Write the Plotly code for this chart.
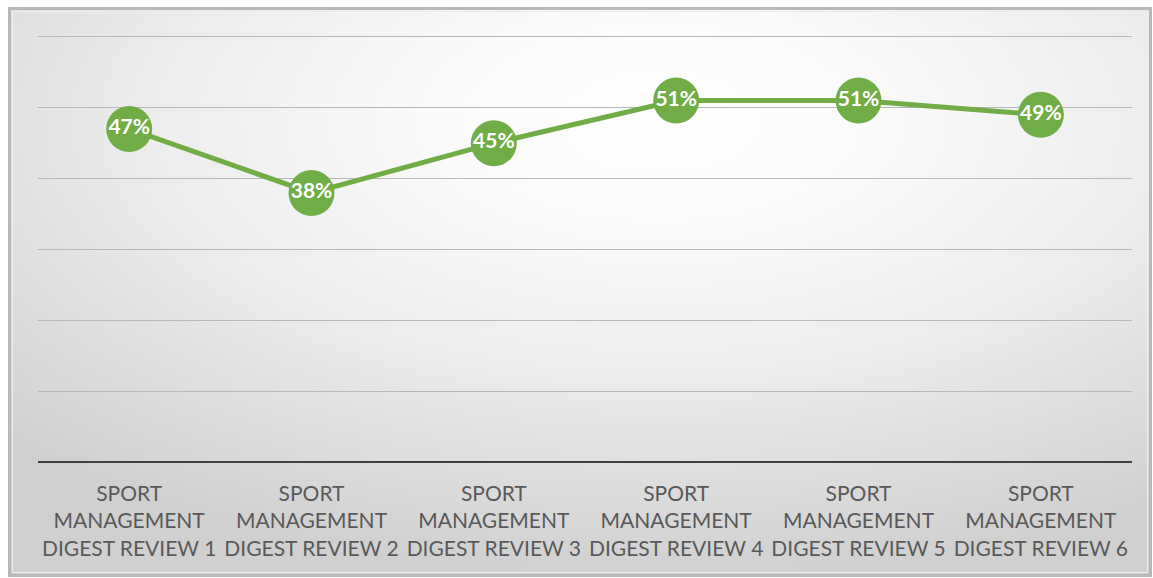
import base64
import plotly.graph_objects as go

categories = ["SPORT<br>MANAGEMENT<br>DIGEST REVIEW %d" % i for i in range(1, 7)]
values = [0.47, 0.38, 0.45, 0.51, 0.51, 0.49]
labels = ["47%", "38%", "45%", "51%", "51%", "49%"]
y_ticks = [0.0, 0.1, 0.2, 0.3, 0.4, 0.5, 0.6]

W, H = 1153, 578
ML, MR, MT, MB = 38, 21, 33, 115
PW, PH = W - ML - MR, H - MT - MB

svg = f'''<svg xmlns="http://www.w3.org/2000/svg" width="{W}" height="{H}" viewBox="0 0 {W} {H}">
<defs>
<radialGradient id="g" cx="0.57" cy="0.2" r="0.8" fx="0.57" fy="0.2">
<stop offset="0" stop-color="#ffffff"/>
<stop offset="0.22" stop-color="#fbfbfb"/>
<stop offset="0.55" stop-color="#ededed"/>
<stop offset="1" stop-color="#d0d0d0"/>
</radialGradient>
</defs>
<rect x="0" y="0" width="{W}" height="{H}" fill="#ffffff"/>
<rect x="9.5" y="8.5" width="{W-12}" height="{H-11}" fill="url(#g)" stroke="#b8b8b8" stroke-width="3"/>
<rect x="12.5" y="11.5" width="{W-18}" height="{H-17}" fill="none" stroke="#ededed" stroke-width="1"/>
</svg>'''
src = "data:image/svg+xml;base64," + base64.b64encode(svg.encode()).decode()

fig = go.Figure()
fig.add_trace(go.Scatter(
    x=categories, y=values, mode="lines+markers+text",
    line=dict(color="#70AD47", width=5),
    marker=dict(size=46, color="#70AD47", line=dict(width=0)),
    text=labels, textposition="middle center",
    textfont=dict(family="Lato", size=21, color="#ffffff", weight="bold"),
    cliponaxis=False, hoverinfo="skip",
))

fig.add_shape(type="line", xref="paper", yref="y", x0=0, x1=1, y0=0, y1=0,
              line=dict(color="#3f3f3f", width=4), layer="above")

fig.add_layout_image(dict(
    source=src, xref="paper", yref="paper",
    x=-ML / PW, y=1 + MT / PH, sizex=W / PW, sizey=H / PH,
    xanchor="left", yanchor="top", sizing="stretch", layer="below",
))

fig.update_layout(
    width=W, height=H,
    margin=dict(l=ML, r=MR, t=MT, b=MB),
    paper_bgcolor="rgba(0,0,0,0)", plot_bgcolor="rgba(0,0,0,0)",
    showlegend=False,
    xaxis=dict(range=[-0.5, 5.5], showgrid=False, zeroline=False, showline=False,
               ticks="", ticklabelstandoff=16,
               tickfont=dict(family="Lato", size=21, color="#595959"),
               fixedrange=True),
    yaxis=dict(range=[0, 0.605], tickvals=y_ticks, showticklabels=False,
               showgrid=True, gridcolor="#b8b8b8", gridwidth=1,
               zeroline=False, showline=False, fixedrange=True),
)

fig.write_html("out.html", config={"displayModeBar": False})
